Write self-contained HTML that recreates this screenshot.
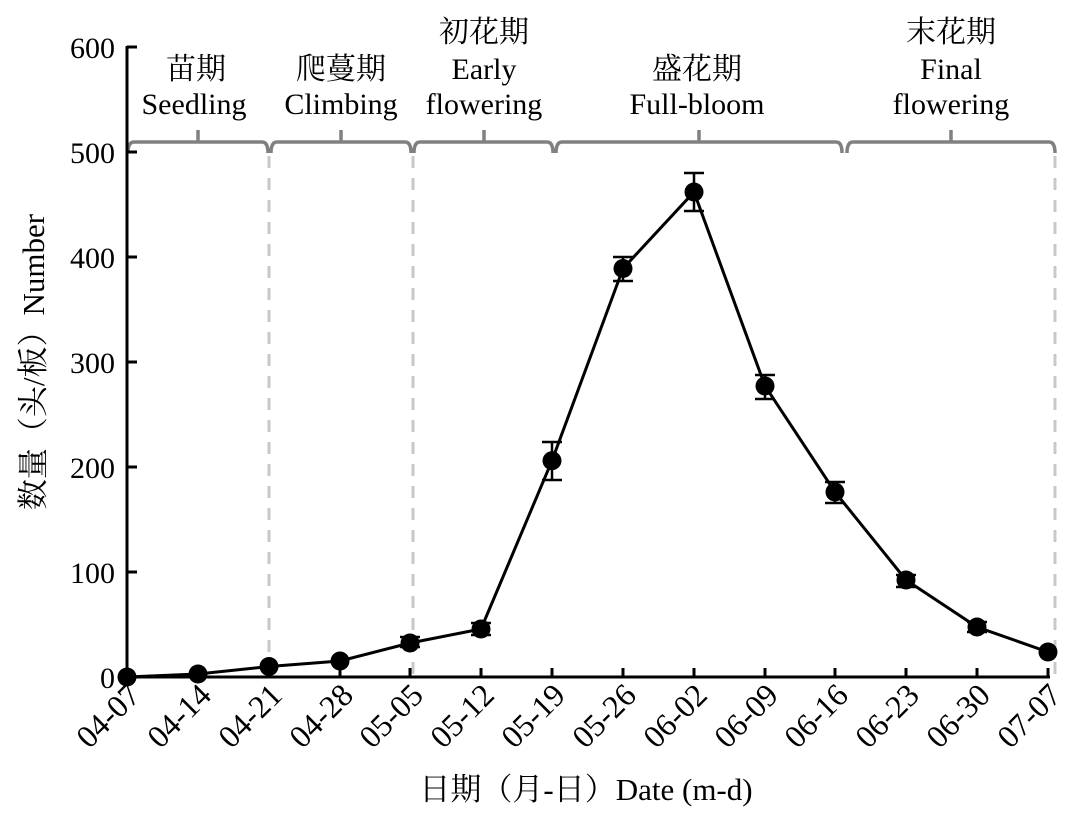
<!DOCTYPE html>
<html><head><meta charset="utf-8"><style>
html,body{margin:0;padding:0;background:#fff}
text{font-family:"Liberation Serif","Noto Serif CJK SC",serif;fill:#000}
</style></head><body>
<svg width="1083" height="821" viewBox="0 0 1083 821" xmlns="http://www.w3.org/2000/svg">
<g stroke="#c8c8c8" stroke-width="3" stroke-dasharray="12,10">
<line x1="269" y1="156" x2="269" y2="677"/>
<line x1="413" y1="156" x2="413" y2="677"/>
<line x1="1055" y1="156" x2="1055" y2="677"/>
</g>
<g stroke="#808080" stroke-width="3.5" fill="none">
<path d="M128,153 Q128,142 134,142 L262,142 Q268,142 268,153 M198,142 L198,130"/>
<path d="M271,153 Q271,142 277,142 L405,142 Q411,142 411,153 M341,142 L341,130"/>
<path d="M414,153 Q414,142 420,142 L547,142 Q553,142 553,153 M484,142 L484,130"/>
<path d="M556,153 Q556,142 562,142 L836,142 Q842,142 842,153 M699,142 L699,130"/>
<path d="M847,153 Q847,142 853,142 L1049,142 Q1055,142 1055,153 M951,142 L951,130"/>
</g>
<g stroke="#000" stroke-width="3" fill="none">
<line x1="127" y1="46" x2="127" y2="678"/>
<line x1="126" y1="677" x2="1050" y2="677"/>
<line x1="127" y1="47" x2="137" y2="47"/>
<line x1="127" y1="152" x2="137" y2="152"/>
<line x1="127" y1="257" x2="137" y2="257"/>
<line x1="127" y1="362" x2="137" y2="362"/>
<line x1="127" y1="467" x2="137" y2="467"/>
<line x1="127" y1="572" x2="137" y2="572"/>
<path d="M198,677v-9M269,677v-9M340,677v-9M410,677v-9M481,677v-9M552,677v-9M623,677v-9M694,677v-9M765,677v-9M835,677v-9M906,677v-9M977,677v-9M1048,677v-9"/>
</g>
<g font-size="30" text-anchor="end">
<text x="115" y="58">600</text><text x="115" y="163">500</text><text x="115" y="268">400</text>
<text x="115" y="373">300</text><text x="115" y="478">200</text><text x="115" y="583">100</text><text x="115" y="688">0</text>
</g>
<g font-size="32" text-anchor="end">
<text transform="translate(142,697) rotate(-45)">04-07</text>
<text transform="translate(213,697) rotate(-45)">04-14</text>
<text transform="translate(284,697) rotate(-45)">04-21</text>
<text transform="translate(355,697) rotate(-45)">04-28</text>
<text transform="translate(425,697) rotate(-45)">05-05</text>
<text transform="translate(496,697) rotate(-45)">05-12</text>
<text transform="translate(567,697) rotate(-45)">05-19</text>
<text transform="translate(638,697) rotate(-45)">05-26</text>
<text transform="translate(709,697) rotate(-45)">06-02</text>
<text transform="translate(780,697) rotate(-45)">06-09</text>
<text transform="translate(850,697) rotate(-45)">06-16</text>
<text transform="translate(921,697) rotate(-45)">06-23</text>
<text transform="translate(992,697) rotate(-45)">06-30</text>
<text transform="translate(1063,697) rotate(-45)">07-07</text>
</g>
<text x="586" y="800" font-size="31" text-anchor="middle">日期（月-日）Date (m-d)</text>
<text transform="translate(44,362) rotate(-90)" font-size="31" text-anchor="middle">数量（头/板）Number</text>
<g font-size="30" text-anchor="middle">
<text x="196" y="79">苗期</text><text x="194" y="114">Seedling</text>
<text x="341" y="79">爬蔓期</text><text x="341" y="114">Climbing</text>
<text x="484" y="42">初花期</text><text x="484" y="79">Early</text><text x="484" y="114">flowering</text>
<text x="697" y="79">盛花期</text><text x="697" y="114">Full-bloom</text>
<text x="951" y="42">末花期</text><text x="951" y="79">Final</text><text x="951" y="114">flowering</text>
</g>
<g stroke="#000" stroke-width="2.5">
<path d="M552,442V480M542,442H562M542,480H562"/>
<path d="M623,257V281M613,257H633M613,281H633"/>
<path d="M694,173V211M684,173H704M684,211H704"/>
<path d="M765,375V399M755,375H775M755,399H775"/>
<path d="M835,482V503M825,482H845M825,503H845"/>
<path d="M906,575V587M896,575H916M896,587H916"/>
<path d="M977,622V632M967,622H987M967,632H987"/>
<path d="M481,623V635M471,623H491M471,635H491"/>
<path d="M410,637V647M400,637H420M400,647H420"/>
</g>
<polyline fill="none" stroke="#000" stroke-width="3" points="127,677 198,674 269,666.5 340,661 410,643 481,629 552,460.7 623,268.5 694,192 765,386 835,492 906,580 977,627 1048,652"/>
<g fill="#000">
<circle cx="127" cy="677" r="9.5"/><circle cx="198" cy="674" r="9.5"/><circle cx="269" cy="666.5" r="9.5"/>
<circle cx="340" cy="661" r="9.5"/><circle cx="410" cy="643" r="9.5"/><circle cx="481" cy="629" r="9.5"/>
<circle cx="552" cy="460.7" r="9.5"/><circle cx="623" cy="268.5" r="9.5"/><circle cx="694" cy="192" r="9.5"/>
<circle cx="765" cy="386" r="9.5"/><circle cx="835" cy="492" r="9.5"/><circle cx="906" cy="580" r="9.5"/>
<circle cx="977" cy="627" r="9.5"/><circle cx="1048" cy="652" r="9.5"/>
</g>
</svg>
</body></html>
